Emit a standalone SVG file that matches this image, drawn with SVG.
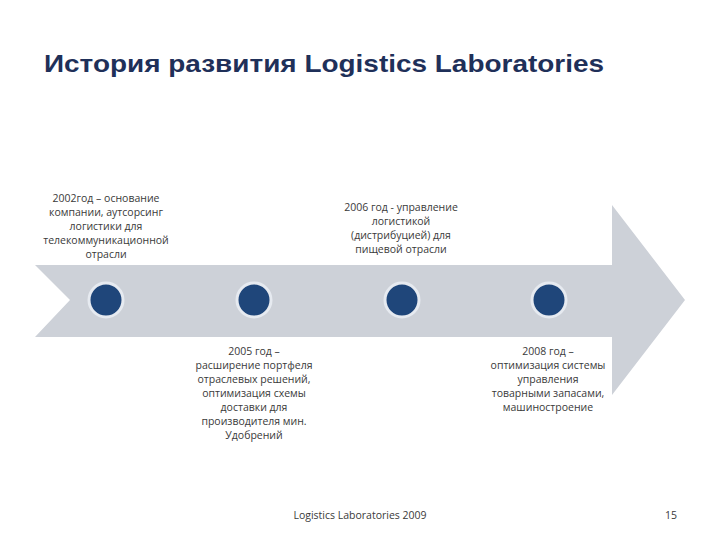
<svg xmlns="http://www.w3.org/2000/svg" width="720" height="540" viewBox="0 0 720 540">
<style>
.t{font-family:"Open Sans","DejaVu Sans",sans-serif;font-size:10.5px;fill:#3a3a3a;text-anchor:middle}
.c{fill:#1f467a;stroke:#e6eaf0;stroke-width:3}
</style>
<rect width="720" height="540" fill="#fff"/>
<text x="44" y="72" font-family="Liberation Sans, Arial, sans-serif" font-size="24" font-weight="bold" fill="#1f3059" textLength="560" lengthAdjust="spacingAndGlyphs">История развития Logistics Laboratories</text>
<g id="arrow"><polygon points="35,265 612,265 612,205 685,300 612,395 612,337 35,337 70,300" fill="#cdd1d8"/></g>
<g id="dots">
<circle class="c" cx="106" cy="300" r="17"/>
<circle class="c" cx="254" cy="300" r="17"/>
<circle class="c" cx="402" cy="300" r="17"/>
<circle class="c" cx="549" cy="300" r="17"/>
</g>
<g id="n2002"><text class="t"><tspan x="106" y="202">2002год – основание</tspan><tspan x="106" y="216">компании, аутсорсинг</tspan><tspan x="106" y="230">логистики для</tspan><tspan x="106" y="244">телекоммуникационной</tspan><tspan x="106" y="258">отрасли</tspan></text></g>
<g id="n2006"><text class="t"><tspan x="401" y="211">2006 год - управление</tspan><tspan x="401" y="225">логистикой</tspan><tspan x="401" y="239">(дистрибуцией) для</tspan><tspan x="401" y="253">пищевой отрасли</tspan></text></g>
<g id="n2005"><text class="t"><tspan x="254" y="355">2005 год –</tspan><tspan x="254" y="369">расширение портфеля</tspan><tspan x="254" y="383">отраслевых решений,</tspan><tspan x="254" y="397">оптимизация схемы</tspan><tspan x="254" y="411">доставки для</tspan><tspan x="254" y="425">производителя мин.</tspan><tspan x="254" y="439">Удобрений</tspan></text></g>
<g id="n2008"><text class="t"><tspan x="548" y="355">2008 год –</tspan><tspan x="548" y="369">оптимизация системы</tspan><tspan x="548" y="383">управления</tspan><tspan x="548" y="397">товарными запасами,</tspan><tspan x="548" y="411">машиностроение</tspan></text></g>
<text class="t" x="360" y="519" fill="#555">Logistics Laboratories 2009</text>
<text class="t" x="671" y="519" fill="#555">15</text>
</svg>
